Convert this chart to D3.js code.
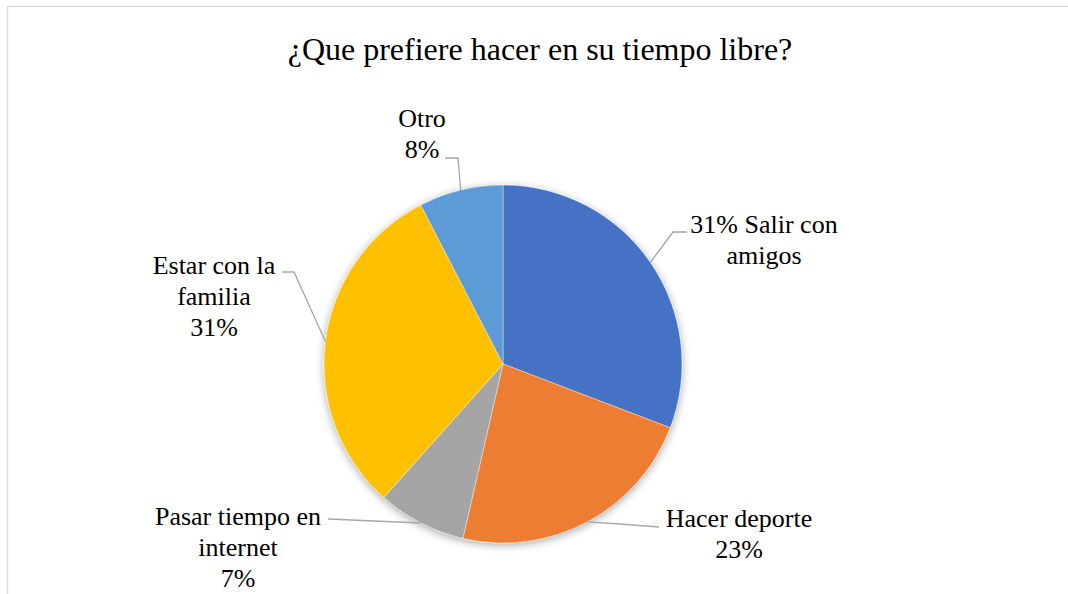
<!DOCTYPE html>
<html>
<head>
  <meta charset="utf-8">
  <title>¿Que prefiere hacer en su tiempo libre?</title>
  <style>
    body { margin: 0; background: #fff; }
    svg { display: block; }
    .serif { font-family: "Liberation Serif", "Times New Roman", serif; fill: #000; }
  </style>
</head>
<body>
  <svg width="1068" height="594"></svg>

  <script src="https://d3js.org/d3.v7.min.js"></script>
  <script>
    // Datos del grafico (porcentajes)
    const categorias = ["Salir con amigos", "Hacer deporte", "Pasar tiempo en internet", "Estar con la familia", "Otro"];
    const valores = [30.8, 22.8, 8.0, 30.8, 7.6];
    const colores = ["#4472C4", "#ED7D31", "#A5A5A5", "#FFC000", "#5B9BD5"];

    // Lineas de cada etiqueta (texto tal como aparece)
    const etiquetas = [
      ["31% Salir con", "amigos"],
      ["Hacer deporte", "23%"],
      ["Pasar tiempo en", "internet", "7%"],
      ["Estar con la", "familia", "31%"],
      ["Otro", "8%"]
    ];

    // Configuracion
    const width = 1068;
    const height = 594;
    const cx = 503, cy = 364, radius = 179;

    // posicion de cada etiqueta (centro x, linea base de la primera linea)
    // y codo de la linea guia
    const layout = [
      { x: 764, y: 233, anchor: [687, 232], codo: [673, 232] },
      { x: 739, y: 527, anchor: [659, 527], codo: [620, 524] },
      { x: 238, y: 525, anchor: [328, 519], codo: null },
      { x: 214, y: 274, anchor: [282, 272], codo: [294, 272] },
      { x: 422, y: 127, anchor: [445, 158], codo: [458, 158] }
    ];

    const svg = d3.select("svg");

    // sombra suave del grafico
    const defs = svg.append("defs");
    const filtro = defs.append("filter")
      .attr("id", "sombra")
      .attr("x", "-20%").attr("y", "-20%")
      .attr("width", "140%").attr("height", "140%");
    filtro.append("feGaussianBlur").attr("in", "SourceAlpha").attr("stdDeviation", 4).attr("result", "blur");
    filtro.append("feOffset").attr("in", "blur").attr("dx", 0).attr("dy", 2).attr("result", "off");
    filtro.append("feComponentTransfer").attr("in", "off").attr("result", "sh")
      .append("feFuncA").attr("type", "linear").attr("slope", 0.35);
    const merge = filtro.append("feMerge");
    merge.append("feMergeNode").attr("in", "sh");
    merge.append("feMergeNode").attr("in", "SourceGraphic");

    // borde del area del grafico
    svg.append("rect")
      .attr("x", 7.5).attr("y", 6.5)
      .attr("width", width + 10).attr("height", height + 10)
      .attr("fill", "#fff")
      .attr("stroke", "#d9d9d9")
      .attr("stroke-width", 1.3);

    // titulo
    svg.append("text")
      .attr("class", "serif")
      .attr("x", 540)
      .attr("y", 60)
      .attr("text-anchor", "middle")
      .attr("font-size", 32)
      .text("¿Que prefiere hacer en su tiempo libre?");

    const datos = categorias.map((c, i) => ({ categoria: c, valor: valores[i], i: i }));

    const pie = d3.pie().value(d => d.valor).sort(null);
    const arc = d3.arc().innerRadius(0).outerRadius(radius);
    const arcos = pie(datos);

    const g = svg.append("g").attr("transform", `translate(${cx},${cy})`);

    g.append("g")
      .attr("filter", "url(#sombra)")
      .selectAll("path")
      .data(arcos)
      .enter()
      .append("path")
      .attr("d", arc)
      .attr("fill", d => colores[d.data.i])
      .attr("stroke", "#fff")
      .attr("stroke-width", 0.4);

    // lineas guia
    arcos.forEach((d, i) => {
      const l = layout[i];
      const a = (d.startAngle + d.endAngle) / 2;
      const px = cx + radius * Math.sin(a);
      const py = cy - radius * Math.cos(a);
      const pts = [l.anchor];
      if (l.codo) pts.push(l.codo);
      pts.push([px, py]);
      svg.append("path")
        .attr("d", d3.line()(pts))
        .attr("fill", "none")
        .attr("stroke", "#a6a6a6")
        .attr("stroke-width", 1.3);
    });

    // etiquetas: un texto por linea
    etiquetas.forEach((lineas, i) => {
      const l = layout[i];
      lineas.forEach((s, j) => {
        svg.append("text")
          .attr("class", "serif")
          .attr("x", l.x)
          .attr("y", l.y + j * 31)
          .attr("text-anchor", "middle")
          .attr("font-size", 26)
          .text(s);
      });
    });
  </script>
</body>
</html>
